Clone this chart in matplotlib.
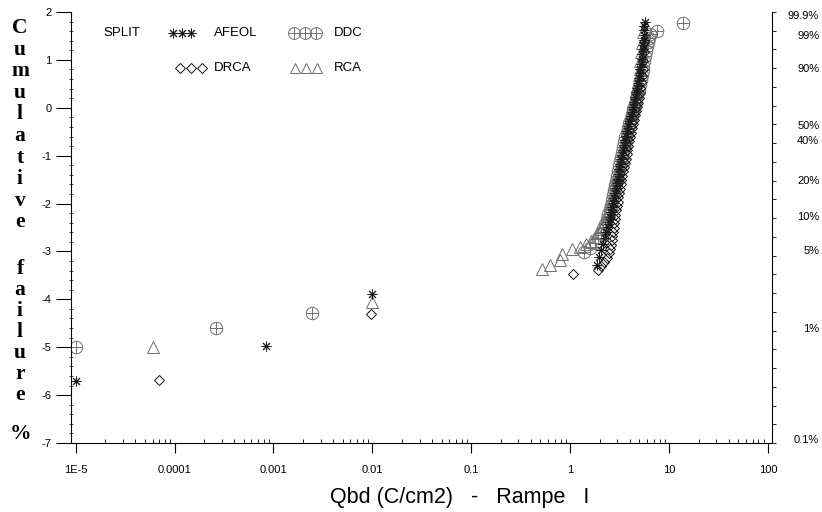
import numpy as np
import matplotlib.pyplot as plt

# Weibull plot: y = ln(-ln(1-F)), x = Qbd (C/cm2)
afeol_q = [1e-5, 8.5e-4, 1.0e-2,
           1.86, 1.97, 2.05, 2.15, 2.24, 2.32, 2.40, 2.46, 2.53, 2.59, 2.65, 2.71,
           2.77, 2.83, 2.89, 2.95, 3.02, 3.08, 3.14, 3.22, 3.29, 3.36,
           3.44, 3.52, 3.60, 3.69, 3.78, 3.87, 3.97, 4.07, 4.17, 4.27,
           4.38, 4.49, 4.60, 4.72, 4.82, 4.92, 5.02, 5.12, 5.20, 5.27,
           5.34, 5.41, 5.46, 5.51, 5.55, 5.58, 5.62, 5.65]
afeol_y = [-5.70, -4.97, -3.89,
           -3.28, -3.12, -2.98, -2.85, -2.72, -2.60, -2.48, -2.38, -2.28, -2.18, -2.08, -1.98,
           -1.88, -1.78, -1.68, -1.58, -1.48, -1.38, -1.28, -1.18, -1.08, -0.98,
           -0.88, -0.78, -0.68, -0.58, -0.48, -0.38, -0.28, -0.18, -0.08, 0.02,
           0.12, 0.22, 0.32, 0.42, 0.52, 0.62, 0.72, 0.82, 0.92, 1.02,
           1.12, 1.22, 1.32, 1.42, 1.52, 1.62, 1.71, 1.80]

ddc_q = [1e-5, 2.6e-4, 2.45e-3, 1.37, 1.58,
         1.78, 1.92, 2.05, 2.16, 2.26, 2.35, 2.43, 2.50, 2.57, 2.63,
         2.70, 2.76, 2.82, 2.88, 2.94, 3.01, 3.08, 3.16, 3.24, 3.32,
         3.41, 3.50, 3.61, 3.72, 3.84, 3.96, 4.09, 4.22, 4.36, 4.50,
         4.64, 4.78, 4.92, 5.05, 5.17, 5.29, 5.40, 5.50, 5.60, 5.70,
         5.80, 5.92, 6.05, 6.20, 6.40, 7.6, 13.7]
ddc_y = [-5.00, -4.60, -4.28, -3.01, -2.92,
         -2.82, -2.72, -2.62, -2.52, -2.42, -2.32, -2.22, -2.12, -2.02, -1.92,
         -1.82, -1.72, -1.62, -1.52, -1.42, -1.32, -1.22, -1.12, -1.02, -0.92,
         -0.82, -0.72, -0.62, -0.52, -0.42, -0.32, -0.22, -0.12, -0.02, 0.08,
         0.18, 0.28, 0.38, 0.48, 0.58, 0.68, 0.78, 0.88, 0.98, 1.08,
         1.18, 1.28, 1.38, 1.46, 1.54, 1.61, 1.77]

drca_q = [7.0e-5, 9.8e-3, 1.07,
          1.93, 2.06, 2.20, 2.33, 2.45, 2.53, 2.58, 2.62, 2.66, 2.70,
          2.74, 2.78, 2.82, 2.86, 2.91, 2.96, 3.01, 3.06, 3.11, 3.17,
          3.23, 3.29, 3.35, 3.42, 3.49, 3.56, 3.63, 3.71, 3.79, 3.87,
          3.95, 4.04, 4.13, 4.22, 4.32, 4.42, 4.52, 4.62, 4.72, 4.82,
          4.92, 5.02, 5.12, 5.22, 5.32, 5.40, 5.48, 5.55, 5.60]
drca_y = [-5.68, -4.30, -3.47,
          -3.39, -3.31, -3.22, -3.13, -3.04, -2.95, -2.86, -2.77, -2.68, -2.59,
          -2.50, -2.41, -2.32, -2.23, -2.14, -2.05, -1.96, -1.87, -1.78, -1.69,
          -1.60, -1.51, -1.42, -1.33, -1.24, -1.15, -1.06, -0.97, -0.88, -0.79,
          -0.70, -0.61, -0.52, -0.43, -0.34, -0.25, -0.16, -0.07, 0.02, 0.11,
          0.21, 0.31, 0.42, 0.54, 0.67, 0.82, 0.98, 1.16, 1.38]

rca_q = [6.1e-5, 1.0e-2,
         0.515, 0.627, 0.79, 0.82, 1.04, 1.26, 1.45, 1.62, 1.78, 1.92,
         2.03, 2.13, 2.22, 2.30, 2.37, 2.44, 2.51, 2.57, 2.63, 2.69,
         2.75, 2.81, 2.87, 2.93, 2.99, 3.05, 3.11, 3.18, 3.25, 3.32,
         3.38, 3.43, 3.49, 3.55, 3.63, 3.71, 3.79, 3.88, 3.97, 4.06,
         4.15, 4.24, 4.33, 4.42, 4.52, 4.62, 4.72, 4.82, 4.92, 5.02,
         5.12, 5.22, 5.32, 5.42]
rca_y = [-5.00, -4.05,
         -3.37, -3.28, -3.18, -3.05, -2.95, -2.90, -2.85, -2.78, -2.70, -2.62,
         -2.54, -2.46, -2.38, -2.30, -2.22, -2.14, -2.06, -1.98, -1.90, -1.82,
         -1.74, -1.66, -1.58, -1.50, -1.42, -1.34, -1.26, -1.18, -1.10, -1.02,
         -0.94, -0.86, -0.78, -0.70, -0.62, -0.54, -0.46, -0.38, -0.30, -0.22,
         -0.14, -0.06, 0.03, 0.12, 0.22, 0.32, 0.43, 0.55, 0.68, 0.82,
         0.98, 1.16, 1.36, 1.58]

x_ticks = [1e-5, 1e-4, 1e-3, 1e-2, 1e-1, 1, 10, 100]
x_labels = ['1E-5', '0.0001', '0.001', '0.01', '0.1', '1', '10', '100']
y_ticks = [2, 1, 0, -1, -2, -3, -4, -5, -6, -7]
pct_values = [99.9, 99, 90, 50, 40, 20, 10, 5, 1, 0.1]
pct_labels = ['99.9%', '99%', '90%', '50%', '40%', '20%', '10%', '5%', '1%', '0.1%']

plt.rcParams['font.family'] = ['Liberation Sans', 'DejaVu Sans']

W, H = 822, 512
fig = plt.figure(figsize=(W / 100, H / 100), dpi=100)
L, R, T, B = 71, 772, 12, 443
ax = fig.add_axes([L / W, 1 - B / H, (R - L) / W, (B - T) / H])

c_afeol, c_ddc, c_drca, c_rca = '#1a1a1a', '#707070', '#111111', '#6e6e6e'
aster = (8, 2, 0)

ax.plot(rca_q, rca_y, ls='none', marker='^', ms=8, mfc='none', mec=c_rca, mew=0.7)
ax.plot(ddc_q, ddc_y, ls='none', marker='o', ms=9, mfc='none', mec=c_ddc, mew=0.7)
ax.plot(ddc_q, ddc_y, ls='none', marker='+', ms=9, mec=c_ddc, mew=0.7)
ax.plot(drca_q, drca_y, ls='none', marker='D', ms=5.5, mfc='none', mec=c_drca, mew=0.7)
ax.plot(afeol_q, afeol_y, ls='none', marker=aster, ms=7, mec=c_afeol, mew=0.7)

ax.set_xscale('log')
ax.set_xlim(10 ** -5.0465, 10 ** 2.04)
ax.set_ylim(-7, 2)
ax.set_xticks(x_ticks)
ax.set_xticklabels(x_labels, fontsize=8)
ax.set_xticks([m * 10.0 ** e for e in range(-5, 2) for m in range(2, 10)], minor=True)
ax.set_yticks(y_ticks)
ax.set_yticklabels([str(v) for v in y_ticks], fontsize=8)
ax.set_yticks(np.arange(-7, 2.01, 0.2), minor=True)
ax.tick_params(axis='x', which='major', direction='out', length=7, width=0.8, pad=9)
ax.tick_params(axis='x', which='minor', direction='in', length=3, width=0.6, labelbottom=False)
ax.tick_params(axis='y', which='major', direction='out', length=11, width=0.8, pad=3)
ax.tick_params(axis='y', which='minor', direction='inout', length=3, width=0.5)
ax.spines['top'].set_visible(False)
ax.spines['right'].set_visible(False)
for s in ['left', 'bottom']:
    ax.spines[s].set_linewidth(0.8)

ax2 = ax.twinx()
ax2.set_ylim(-7, 2)
p = np.array(pct_values) / 100.0
ax2.set_yticks(np.log(-np.log(1 - p)))
ax2.set_yticklabels(pct_labels, fontsize=8)
ax2.set_yticks(np.linspace(-7, 2, 24), minor=True)
ax2.tick_params(axis='y', which='major', length=0, pad=34)
ax2.tick_params(axis='y', which='minor', direction='out', length=3, width=0.6)
for lab in ax2.get_yticklabels():
    lab.set_horizontalalignment('right')
for s in ['top', 'left', 'bottom']:
    ax2.spines[s].set_visible(False)
ax2.spines['right'].set_linewidth(0.8)

ax.set_xlabel('Qbd (C/cm2)   -   Rampe   I', fontsize=15.5)
ax.xaxis.set_label_coords((460 - L) / (R - L), (B - 497) / (B - T))
ax.xaxis.label.set_va('center')

# legend drawn by hand
def px(xp, yp):
    return (xp - L) / (R - L), (B - yp) / (B - T)

def leg_marks(xs, yp, **kw):
    pts = [px(x, yp) for x in xs]
    ax.plot([q[0] for q in pts], [q[1] for q in pts], ls='none', transform=ax.transAxes,
            clip_on=False, **kw)

leg_marks([173, 182, 191], 33, marker=aster, ms=7, mec=c_afeol, mew=0.7)
leg_marks([294, 305, 316], 33, marker='o', ms=8.5, mfc='none', mec=c_ddc, mew=0.7)
leg_marks([294, 305, 316], 33, marker='+', ms=8.5, mec=c_ddc, mew=0.7)
leg_marks([180, 191, 202], 68, marker='D', ms=5.5, mfc='none', mec=c_drca, mew=0.7)
leg_marks([295, 306, 317], 68, marker='^', ms=7.5, mfc='none', mec=c_rca, mew=0.7)
for txt, xp, yp in [('SPLIT', 103, 33), ('AFEOL', 214, 33), ('DDC', 334, 33),
                    ('DRCA', 214, 68), ('RCA', 334, 68)]:
    xa, ya = px(xp, yp)
    ax.text(xa, ya, txt, transform=ax.transAxes, fontsize=9.5, ha='left', va='center')

# stacked vertical axis title
letters1 = 'Cumulative'
letters2 = 'failure'
for i, ch in enumerate(letters1):
    fig.text(20 / W, 1 - (28 + i * 21.6) / H, ch, ha='center', va='center',
             fontsize=15.5, fontweight='bold', family='Liberation Serif')
for i, ch in enumerate(letters2):
    fig.text(20 / W, 1 - (269 + i * 21) / H, ch, ha='center', va='center',
             fontsize=15.5, fontweight='bold', family='Liberation Serif')
fig.text(20 / W, 1 - 434 / H, '%', ha='center', va='center',
         fontsize=15.5, fontweight='bold', family='Liberation Serif')

fig.savefig('out.png', dpi=100)
